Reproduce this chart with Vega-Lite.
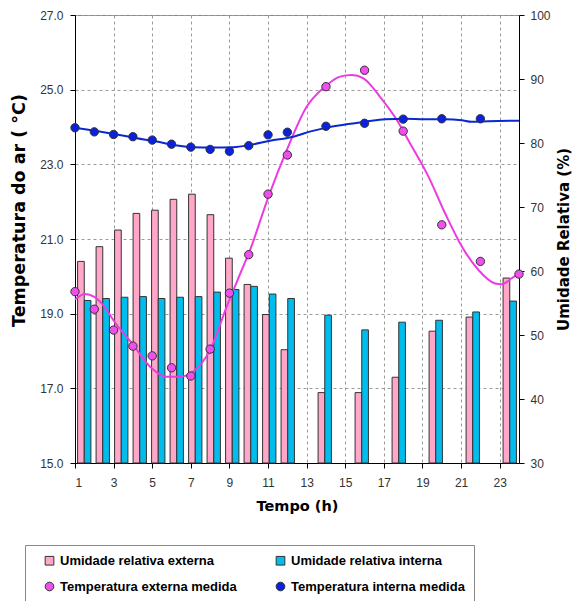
{
  "$schema": "https://vega.github.io/schema/vega-lite/v6.json",
  "width": 444,
  "height": 448,
  "autosize": {"type": "none"},
  "padding": {"left": 75, "top": 15, "right": 55, "bottom": 138},
  "background": "white",
  "config": {
    "font": "Liberation Sans",
    "view": {"stroke": "#888888", "strokeWidth": 1},
    "axis": {
      "labelFont": "Liberation Sans",
      "labelFontSize": 12,
      "labelColor": "#333333",
      "titleFont": "DejaVu Sans",
      "titleFontSize": 15,
      "titleFontWeight": "bold",
      "titleColor": "#000000",
      "domainColor": "#000000",
      "tickColor": "#000000",
      "tickSize": 5,
      "gridColor": "#9a9a9a",
      "gridDash": [3, 3],
      "gridWidth": 1
    },
    "legend": {
      "labelFont": "Liberation Sans",
      "labelFontSize": 13,
      "labelFontWeight": "bold",
      "labelColor": "#000000"
    }
  },
  "datasets": {
    "rh": [
      {"hour": 1, "series": "Umidade relativa externa", "value": 61.5},
      {"hour": 2, "series": "Umidade relativa externa", "value": 63.8},
      {"hour": 3, "series": "Umidade relativa externa", "value": 66.4},
      {"hour": 4, "series": "Umidade relativa externa", "value": 69.0},
      {"hour": 5, "series": "Umidade relativa externa", "value": 69.5},
      {"hour": 6, "series": "Umidade relativa externa", "value": 71.2},
      {"hour": 7, "series": "Umidade relativa externa", "value": 72.0},
      {"hour": 8, "series": "Umidade relativa externa", "value": 68.8},
      {"hour": 9, "series": "Umidade relativa externa", "value": 62.0},
      {"hour": 10, "series": "Umidade relativa externa", "value": 57.9},
      {"hour": 11, "series": "Umidade relativa externa", "value": 53.2},
      {"hour": 12, "series": "Umidade relativa externa", "value": 47.7},
      {"hour": 14, "series": "Umidade relativa externa", "value": 41.0},
      {"hour": 16, "series": "Umidade relativa externa", "value": 41.0},
      {"hour": 18, "series": "Umidade relativa externa", "value": 43.4},
      {"hour": 20, "series": "Umidade relativa externa", "value": 50.6},
      {"hour": 22, "series": "Umidade relativa externa", "value": 52.8},
      {"hour": 24, "series": "Umidade relativa externa", "value": 58.9},
      {"hour": 1, "series": "Umidade relativa interna", "value": 55.4},
      {"hour": 2, "series": "Umidade relativa interna", "value": 55.7},
      {"hour": 3, "series": "Umidade relativa interna", "value": 55.9},
      {"hour": 4, "series": "Umidade relativa interna", "value": 56.0},
      {"hour": 5, "series": "Umidade relativa interna", "value": 55.7},
      {"hour": 6, "series": "Umidade relativa interna", "value": 55.9},
      {"hour": 7, "series": "Umidade relativa interna", "value": 56.0},
      {"hour": 8, "series": "Umidade relativa interna", "value": 56.7},
      {"hour": 9, "series": "Umidade relativa interna", "value": 57.1},
      {"hour": 10, "series": "Umidade relativa interna", "value": 57.6},
      {"hour": 11, "series": "Umidade relativa interna", "value": 56.4},
      {"hour": 12, "series": "Umidade relativa interna", "value": 55.7},
      {"hour": 14, "series": "Umidade relativa interna", "value": 53.1},
      {"hour": 16, "series": "Umidade relativa interna", "value": 50.8},
      {"hour": 18, "series": "Umidade relativa interna", "value": 52.0},
      {"hour": 20, "series": "Umidade relativa interna", "value": 52.3},
      {"hour": 22, "series": "Umidade relativa interna", "value": 53.6},
      {"hour": 24, "series": "Umidade relativa interna", "value": 55.3}
    ],
    "temp": [
      {"hour": 1, "series": "Temperatura externa medida", "value": 19.59},
      {"hour": 2, "series": "Temperatura externa medida", "value": 19.12},
      {"hour": 3, "series": "Temperatura externa medida", "value": 18.56},
      {"hour": 4, "series": "Temperatura externa medida", "value": 18.13},
      {"hour": 5, "series": "Temperatura externa medida", "value": 17.87},
      {"hour": 6, "series": "Temperatura externa medida", "value": 17.55},
      {"hour": 7, "series": "Temperatura externa medida", "value": 17.33},
      {"hour": 8, "series": "Temperatura externa medida", "value": 18.05},
      {"hour": 9, "series": "Temperatura externa medida", "value": 19.55},
      {"hour": 10, "series": "Temperatura externa medida", "value": 20.58},
      {"hour": 11, "series": "Temperatura externa medida", "value": 22.2},
      {"hour": 12, "series": "Temperatura externa medida", "value": 23.25},
      {"hour": 14, "series": "Temperatura externa medida", "value": 25.08},
      {"hour": 16, "series": "Temperatura externa medida", "value": 25.52},
      {"hour": 18, "series": "Temperatura externa medida", "value": 23.89},
      {"hour": 20, "series": "Temperatura externa medida", "value": 21.38},
      {"hour": 22, "series": "Temperatura externa medida", "value": 20.4},
      {"hour": 24, "series": "Temperatura externa medida", "value": 20.06},
      {"hour": 1, "series": "Temperatura interna medida", "value": 23.98},
      {"hour": 2, "series": "Temperatura interna medida", "value": 23.87},
      {"hour": 3, "series": "Temperatura interna medida", "value": 23.8},
      {"hour": 4, "series": "Temperatura interna medida", "value": 23.74},
      {"hour": 5, "series": "Temperatura interna medida", "value": 23.65},
      {"hour": 6, "series": "Temperatura interna medida", "value": 23.54},
      {"hour": 7, "series": "Temperatura interna medida", "value": 23.46},
      {"hour": 8, "series": "Temperatura interna medida", "value": 23.4},
      {"hour": 9, "series": "Temperatura interna medida", "value": 23.35},
      {"hour": 10, "series": "Temperatura interna medida", "value": 23.5},
      {"hour": 11, "series": "Temperatura interna medida", "value": 23.79},
      {"hour": 12, "series": "Temperatura interna medida", "value": 23.86},
      {"hour": 14, "series": "Temperatura interna medida", "value": 24.02},
      {"hour": 16, "series": "Temperatura interna medida", "value": 24.1},
      {"hour": 18, "series": "Temperatura interna medida", "value": 24.21},
      {"hour": 20, "series": "Temperatura interna medida", "value": 24.22},
      {"hour": 22, "series": "Temperatura interna medida", "value": 24.22}
    ],
    "curves": [
      {"hour": 1.0, "curve": "ext", "value": 19.38},
      {"hour": 1.52, "curve": "ext", "value": 19.53},
      {"hour": 2.47, "curve": "ext", "value": 19.23},
      {"hour": 2.98, "curve": "ext", "value": 18.83},
      {"hour": 4.02, "curve": "ext", "value": 18.16},
      {"hour": 4.89, "curve": "ext", "value": 17.58},
      {"hour": 5.75, "curve": "ext", "value": 17.31},
      {"hour": 6.44, "curve": "ext", "value": 17.31},
      {"hour": 7.13, "curve": "ext", "value": 17.45},
      {"hour": 8.0, "curve": "ext", "value": 18.03},
      {"hour": 8.86, "curve": "ext", "value": 19.19},
      {"hour": 9.64, "curve": "ext", "value": 20.17},
      {"hour": 10.07, "curve": "ext", "value": 20.71},
      {"hour": 11.02, "curve": "ext", "value": 22.13},
      {"hour": 11.97, "curve": "ext", "value": 23.38},
      {"hour": 13.0, "curve": "ext", "value": 24.54},
      {"hour": 13.95, "curve": "ext", "value": 25.08},
      {"hour": 14.73, "curve": "ext", "value": 25.35},
      {"hour": 15.34, "curve": "ext", "value": 25.39},
      {"hour": 15.94, "curve": "ext", "value": 25.3},
      {"hour": 16.8, "curve": "ext", "value": 24.81},
      {"hour": 17.67, "curve": "ext", "value": 24.19},
      {"hour": 18.36, "curve": "ext", "value": 23.56},
      {"hour": 19.31, "curve": "ext", "value": 22.67},
      {"hour": 20.17, "curve": "ext", "value": 21.69},
      {"hour": 21.04, "curve": "ext", "value": 20.8},
      {"hour": 21.9, "curve": "ext", "value": 20.17},
      {"hour": 22.76, "curve": "ext", "value": 19.81},
      {"hour": 23.11, "curve": "ext", "value": 19.79},
      {"hour": 23.63, "curve": "ext", "value": 19.95},
      {"hour": 24.0, "curve": "ext", "value": 20.08},
      {"hour": 1.0, "curve": "int", "value": 23.98},
      {"hour": 2.12, "curve": "int", "value": 23.89},
      {"hour": 3.16, "curve": "int", "value": 23.8},
      {"hour": 4.2, "curve": "int", "value": 23.7},
      {"hour": 5.23, "curve": "int", "value": 23.61},
      {"hour": 6.09, "curve": "int", "value": 23.52},
      {"hour": 7.13, "curve": "int", "value": 23.46},
      {"hour": 8.17, "curve": "int", "value": 23.45},
      {"hour": 9.2, "curve": "int", "value": 23.46},
      {"hour": 10.07, "curve": "int", "value": 23.52},
      {"hour": 11.1, "curve": "int", "value": 23.63},
      {"hour": 12.31, "curve": "int", "value": 23.74},
      {"hour": 13.26, "curve": "int", "value": 23.89},
      {"hour": 14.12, "curve": "int", "value": 23.99},
      {"hour": 15.16, "curve": "int", "value": 24.08},
      {"hour": 16.03, "curve": "int", "value": 24.14},
      {"hour": 17.06, "curve": "int", "value": 24.21},
      {"hour": 18.1, "curve": "int", "value": 24.22},
      {"hour": 19.13, "curve": "int", "value": 24.21},
      {"hour": 20.17, "curve": "int", "value": 24.21},
      {"hour": 21.04, "curve": "int", "value": 24.18},
      {"hour": 21.55, "curve": "int", "value": 24.14},
      {"hour": 22.93, "curve": "int", "value": 24.16},
      {"hour": 24.0, "curve": "int", "value": 24.17}
    ]
  },
  "layer": [
    {
      "data": {"name": "rh"},
      "mark": {"type": "bar", "stroke": "#333333", "strokeWidth": 1},
      "encoding": {
        "x": {
          "field": "hour",
          "type": "ordinal",
          "scale": {"domain": [1,2,3,4,5,6,7,8,9,10,11,12,13,14,15,16,17,18,19,20,21,22,23,24], "paddingInner": 0.28, "paddingOuter": 0.14},
          "axis": null
        },
        "xOffset": {
          "field": "series",
          "type": "nominal",
          "scale": {"domain": ["Umidade relativa externa", "Umidade relativa interna"], "paddingInner": 0, "paddingOuter": 0}
        },
        "y": {
          "field": "value",
          "type": "quantitative",
          "scale": {"domain": [30, 100], "zero": false, "nice": false},
          "axis": {
            "orient": "right",
            "values": [30, 40, 50, 60, 70, 80, 90, 100],
            "grid": false,
            "title": "Umidade Relativa (%)",
            "titleAngle": -90,
            "titleFontSize": 15,
            "titlePadding": 21,
            "labelPadding": 6
          }
        },
        "y2": {"datum": 30},
        "color": {
          "field": "series",
          "type": "nominal",
          "scale": {
            "domain": ["Umidade relativa externa", "Temperatura externa medida", "Umidade relativa interna", "Temperatura interna medida"],
            "range": ["#FFA6C9", "#F04EEE", "#00BDEE", "#0A22E0"]
          },
          "legend": {
            "title": null,
            "orient": "none",
            "legendX": -50,
            "legendY": 530,
            "columns": 2,
            "columnPadding": 28,
            "rowPadding": 12,
            "padding": 9,
            "symbolOffset": 9,
            "symbolSize": 75,
            "symbolStrokeColor": "#333333",
            "symbolStrokeWidth": 1,
            "strokeColor": "#888888",
            "labelLimit": 300
          }
        }
      }
    },
    {
      "layer": [
        {
          "data": {"name": "curves"},
          "transform": [{"filter": "datum.curve == 'ext'"}],
          "mark": {"type": "line", "color": "#EE3AE2", "strokeWidth": 2, "interpolate": "monotone"},
          "encoding": {
            "x": {
              "field": "hour",
              "type": "quantitative",
              "scale": {"domain": [1, 24], "nice": false, "zero": false},
              "axis": {
                "values": [1, 3, 5, 7, 9, 11, 13, 15, 17, 19, 21, 23],
                "grid": true,
                "title": "Tempo (h)",
                "titleFontSize": 14.5,
                "labelPadding": 9,
                "titlePadding": 11
              }
            },
            "y": {
              "field": "value",
              "type": "quantitative",
              "scale": {"domain": [15, 27], "zero": false, "nice": false},
              "axis": {
                "values": [15, 17, 19, 21, 23, 25, 27],
                "format": ".1f",
                "grid": true,
                "title": "Temperatura do ar ( °C)",
                "titleFontSize": 17.5,
                "titleY": 195,
                "labelPadding": 7,
                "titlePadding": 11
              }
            }
          }
        },
        {
          "data": {"name": "curves"},
          "transform": [{"filter": "datum.curve == 'int'"}],
          "mark": {"type": "line", "color": "#0A28D0", "strokeWidth": 2, "interpolate": "monotone"},
          "encoding": {
            "x": {"field": "hour", "type": "quantitative"},
            "y": {"field": "value", "type": "quantitative"}
          }
        },
        {
          "data": {"name": "temp"},
          "mark": {"type": "point", "filled": true, "size": 70, "stroke": "#333333", "strokeWidth": 1, "opacity": 1},
          "encoding": {
            "x": {"field": "hour", "type": "quantitative"},
            "y": {"field": "value", "type": "quantitative"},
            "color": {"field": "series", "type": "nominal"},
            "shape": {
              "field": "series",
              "type": "nominal",
              "scale": {
                "domain": ["Umidade relativa externa", "Temperatura externa medida", "Umidade relativa interna", "Temperatura interna medida"],
                "range": ["square", "circle", "square", "circle"]
              }
            }
          }
        }
      ]
    }
  ],
  "resolve": {"scale": {"x": "independent", "y": "independent"}}
}
